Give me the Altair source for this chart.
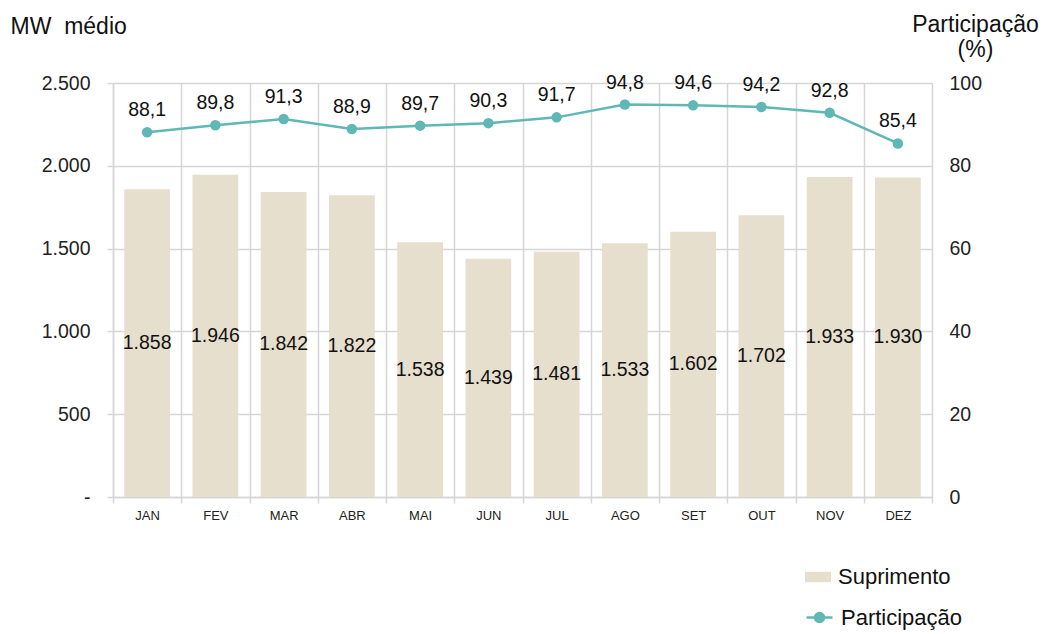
import altair as alt
import pandas as pd

months = ["JAN", "FEV", "MAR", "ABR", "MAI", "JUN", "JUL", "AGO", "SET", "OUT", "NOV", "DEZ"]
suprimento = [1858, 1946, 1842, 1822, 1538, 1439, 1481, 1533, 1602, 1702, 1933, 1930]
participacao = [88.1, 89.8, 91.3, 88.9, 89.7, 90.3, 91.7, 94.8, 94.6, 94.2, 92.8, 85.4]

BAR = "#E7DFCD"
LINE = "#5FB7B6"
GRID = "#D6D6D6"
FONT = "Liberation Sans"
VAL = 19.5

df = pd.DataFrame({
    "mes": months,
    "sup": suprimento,
    "half": [v / 2 for v in suprimento],
    "sup_lbl": [f"{v:,}".replace(",", ".") for v in suprimento],
    "part": participacao,
    "part_lbl": [f"{v:.1f}".replace(".", ",") for v in participacao],
    "s1": ["Suprimento"] * 12,
    "s2": ["Participação"] * 12,
})

base = alt.Chart(df)
x = alt.X("mes:N", sort=months, title=None,
          scale=alt.Scale(paddingInner=0, paddingOuter=0),
          axis=alt.Axis(tickBand="extent", grid=True, gridColor=GRID, gridWidth=1.5,
                        domainColor=GRID, domainWidth=1.5, tickColor=GRID, tickWidth=1.5,
                        tickSize=6, labelFontSize=13, labelPadding=6, labelColor="#222",
                        labelFont=FONT, labelAngle=0))

yl = alt.Scale(domain=[0, 2500])
left_axis = alt.Axis(values=[0, 500, 1000, 1500, 2000, 2500],
                     labelExpr="datum.value == 0 ? '-' : replace(format(datum.value, ','), ',', '.')",
                     grid=True, gridColor=GRID, gridWidth=1.5,
                     domainColor=GRID, domainWidth=1.5, tickColor=GRID, tickWidth=1.5,
                     tickSize=6, labelFontSize=VAL, labelPadding=17, labelColor="#222",
                     labelFont=FONT,
                     title="MW\u00a0 médio", titleAngle=0, titleAlign="left",
                     titleBaseline="alphabetic", titleX=-103, titleY=-50,
                     titleFontSize=23, titleFontWeight="normal", titleFont=FONT,
                     titleColor="#111")

bars = base.mark_bar(width=alt.RelativeBandSize(0.67)).encode(
    x=x,
    y=alt.Y("sup:Q", scale=yl, axis=left_axis),
    color=alt.Color("s1:N", scale=alt.Scale(range=[BAR]),
                    legend=alt.Legend(title=None, orient="none", legendX=692, legendY=481,
                                      symbolType="M-1,-0.4H1V0.4H-1Z", symbolSize=676,
                                      symbolStrokeWidth=0, labelFontSize=22, labelFont=FONT,
                                      labelColor="#111", labelOffset=7)),
)
bar_text = base.mark_text(fontSize=VAL, font=FONT, color="#111").encode(
    x=alt.X("mes:N", sort=months),
    y=alt.Y("half:Q", scale=yl, axis=left_axis),
    text="sup_lbl:N",
)

yr = alt.Scale(domain=[0, 100])
right_axis = alt.Axis(orient="right", values=[0, 20, 40, 60, 80, 100], grid=False,
                      domain=False, ticks=False, labelFontSize=VAL, labelPadding=17,
                      labelColor="#222", labelFont=FONT,
                      title=["Participação", "(%)"], titleAngle=0, titleAlign="center",
                      titleBaseline="alphabetic", titleX=43, titleY=-52,
                      titleLineHeight=25, titleFontSize=23, titleFontWeight="normal",
                      titleFont=FONT, titleColor="#111")
line = base.mark_line(strokeWidth=2.5).encode(
    x=alt.X("mes:N", sort=months),
    y=alt.Y("part:Q", scale=yr, axis=right_axis),
    color=alt.Color("s2:N", scale=alt.Scale(range=[LINE]),
                    legend=alt.Legend(title=None, orient="none", legendX=692, legendY=520,
                                      symbolType="M-1,0H1M-0.35,0A0.35,0.35 0 1,0 0.35,0A0.35,0.35 0 1,0 -0.35,0Z",
                                      symbolSize=676, symbolStrokeWidth=2.5,
                                      symbolFillColor=LINE, symbolStrokeColor=LINE,
                                      labelFontSize=22, labelFont=FONT,
                                      labelColor="#111", labelOffset=7)),
)
points = base.mark_circle(size=110, opacity=1, color=LINE).encode(
    x=alt.X("mes:N", sort=months),
    y=alt.Y("part:Q", scale=yr, axis=right_axis),
)
line_text = base.mark_text(fontSize=VAL, font=FONT, color="#111", dy=-22).encode(
    x=alt.X("mes:N", sort=months),
    y=alt.Y("part:Q", scale=yr, axis=right_axis),
    text="part_lbl:N",
)

chart = alt.layer(
    alt.layer(bars, bar_text),
    alt.layer(line, points, line_text),
).resolve_scale(y="independent", color="independent").properties(
    width=819, height=414,
    autosize=alt.AutoSizeParams(type="none"),
    padding={"left": 105, "top": 75, "right": 114, "bottom": 134},
).configure_view(stroke=None).configure(background="white")

chart.save("out.html", embed_options={"renderer": "svg", "actions": False})
